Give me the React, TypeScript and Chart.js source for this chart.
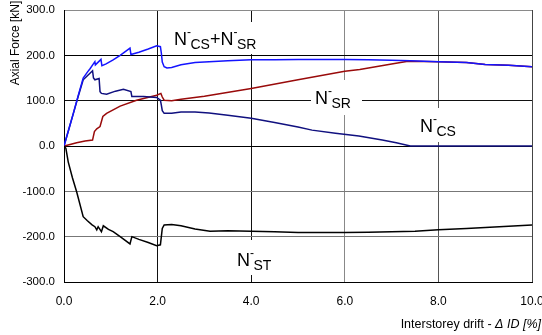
import React, { useEffect, useRef } from 'react';
import { Chart, registerables } from 'chart.js';

Chart.register(...registerables);

const FONT = '"Liberation Sans", Arial, Helvetica, sans-serif';

// ---- data ----
const xTickValues = [0, 2, 4, 6, 8, 10];
const yTickValues = [-300, -200, -100, 0, 100, 200, 300];

// N-CS + N-SR (bright blue)
const sumX = [0, 0.1, 0.2, 0.3, 0.41, 0.5, 0.56, 0.62, 0.66, 0.67, 0.72, 0.79, 0.81, 0.9, 1.05, 1.2, 1.41, 1.43, 1.6, 1.8, 1.98, 2.06, 2.08, 2.1, 2.14, 2.2, 2.3, 2.5, 2.8, 3.1, 3.5, 4.0, 4.5, 5.0, 5.5, 6.0, 6.5, 7.0, 7.4, 8.0, 8.6, 9.0, 9.5, 10.0];
const sumY = [0, 36, 72, 110, 150, 163, 171, 180, 186, 179, 184, 191, 177, 181, 190, 200, 216, 202, 207, 214, 221, 219, 205, 185, 175, 172, 173, 179, 184, 186, 188, 190, 190, 191, 191, 191, 190, 189, 188, 186, 184, 180, 178, 175];

// N-CS (navy)
const csX = [0, 0.1, 0.2, 0.3, 0.41, 0.5, 0.61, 0.63, 0.66, 0.75, 0.77, 0.8, 0.91, 1.1, 1.27, 1.43, 1.45, 1.7, 1.98, 2.06, 2.08, 2.1, 2.14, 2.3, 2.5, 2.8, 3.1, 3.5, 4.0, 4.5, 5.0, 5.3, 5.8, 6.3, 6.8, 7.1, 7.4, 10.0];
const csY = [0, 36, 72, 108, 146, 155, 166, 150, 146, 149, 120, 116, 114, 121, 125, 120, 109, 109, 107, 101, 90, 78, 72, 72, 75, 75, 73, 68, 61, 52, 42, 35, 28, 22, 13, 7, 0, 0];

// N-SR (dark red)
const srX = [0, 0.15, 0.27, 0.45, 0.61, 0.65, 0.7, 0.77, 0.83, 0.91, 1.2, 1.55, 1.98, 2.07, 2.1, 2.14, 2.3, 2.5, 3.0, 4.0, 5.0, 6.0, 6.32, 7.0, 7.35, 8.0, 8.6, 9.0, 9.5, 10.0];
const srY = [0, 4, 7, 11, 13, 32, 38, 43, 65, 72, 88, 101, 112, 116, 108, 101, 100, 103, 110, 127, 146, 165, 169, 181, 187, 186, 184, 180, 178, 175];

// N-ST (black)
const stX = [0, 0.04, 0.09, 0.18, 0.27, 0.41, 0.5, 0.6, 0.66, 0.7, 0.73, 0.8, 0.84, 0.95, 1.05, 1.2, 1.41, 1.45, 1.6, 1.8, 1.98, 2.06, 2.08, 2.1, 2.14, 2.3, 2.5, 2.8, 3.12, 3.5, 4.0, 4.5, 5.0, 5.5, 6.0, 6.5, 7.0, 7.5, 8.0, 8.6, 9.0, 9.5, 10.0];
const stY = [0, -5, -35, -70, -101, -156, -165, -174, -178, -185, -178, -189, -176, -184, -189, -200, -216, -200, -206, -213, -220, -218, -200, -182, -174, -173, -176, -183, -188, -187, -188, -189, -191, -191, -191, -190, -189, -188, -185, -182, -180, -177, -174];

// label texts: [main, sub] pairs
const labelSum = [['N', 'CS'], ['+'], ['N', 'SR']];
const labelSR = [['N', 'SR']];
const labelCS = [['N', 'CS']];
const labelST = [['N', 'ST']];
const yTitle = 'Axial Force [kN]';
const xTitlePlain = 'Interstorey drift - ';
const xTitleItalic = '\u0394 ID [%]';

// ---- layout / style ----
const LABEL_LAYOUT = [
  { parts: labelSum, x: 174, y: 45, box: [168, 22, 94, 32] },
  { parts: labelSR, x: 315, y: 104, box: [311, 80, 51, 35] },
  { parts: labelCS, x: 420, y: 132, box: [414, 108, 56, 34] },
  { parts: labelST, x: 237, y: 266, box: [231, 240, 48, 35] },
];

function drawLabel(ctx: CanvasRenderingContext2D, parts: string[][], x: number, y: number) {
  let cx = x;
  for (const p of parts) {
    if (p.length === 1) {
      ctx.font = `18px ${FONT}`;
      ctx.fillText(p[0], cx, y);
      cx += ctx.measureText(p[0]).width;
    } else {
      ctx.font = `18px ${FONT}`;
      ctx.fillText(p[0], cx, y);
      cx += ctx.measureText(p[0]).width;
      ctx.font = `12px ${FONT}`;
      ctx.fillText('-', cx, y - 9.5);
      cx += ctx.measureText('-').width - 0.5;
      ctx.font = `14px ${FONT}`;
      ctx.fillText(p[1], cx, y + 3.5);
      cx += ctx.measureText(p[1]).width;
    }
  }
}

const annotPlugin = {
  id: 'annot',
  beforeDatasetsDraw(chart: any) {
    const ctx: CanvasRenderingContext2D = chart.ctx;
    ctx.save();
    ctx.fillStyle = '#ffffff';
    for (const l of LABEL_LAYOUT) {
      ctx.fillRect(l.box[0], l.box[1], l.box[2], l.box[3]);
    }
    ctx.fillStyle = '#000000';
    ctx.textAlign = 'left';
    ctx.textBaseline = 'alphabetic';
    for (const l of LABEL_LAYOUT) drawLabel(ctx, l.parts, l.x, l.y);
    ctx.restore();
  },
  afterDraw(chart: any) {
    const ctx: CanvasRenderingContext2D = chart.ctx;
    ctx.save();
    ctx.fillStyle = '#000000';
    ctx.textBaseline = 'alphabetic';
    // y title
    ctx.translate(18.5, 43);
    ctx.rotate(-Math.PI / 2);
    ctx.textAlign = 'center';
    ctx.font = `12px ${FONT}`;
    ctx.fillText(yTitle, 0, 0);
    ctx.setTransform(1, 0, 0, 1, 0, 0);
    // x title, right aligned
    ctx.textAlign = 'left';
    ctx.font = `italic 12.5px ${FONT}`;
    const wi = ctx.measureText(xTitleItalic).width;
    ctx.font = `12.5px ${FONT}`;
    const wp = ctx.measureText(xTitlePlain).width;
    const right = 541;
    const start = right - wi - wp;
    ctx.fillText(xTitlePlain, start, 327.5);
    ctx.font = `italic 12.5px ${FONT}`;
    ctx.fillText(xTitleItalic, start + wp, 327.5);
    ctx.restore();
  },
};

const pts = (xs: number[], ys: number[]) => xs.map((x, i) => ({ x, y: ys[i] }));

const yGridColor: Record<string, string> = { '300': '#8a8a8a', '200': '#000', '100': '#111', '0': '#000', '-100': '#777', '-200': '#777', '-300': '#000' };
const xGridColor: Record<string, string> = { '0': '#000', '2': '#111', '4': '#111', '6': '#888', '8': '#555', '10': '#444' };

export default function App() {
  const ref = useRef<HTMLCanvasElement>(null);
  useEffect(() => {
    if (!ref.current) return;
    const chart = new Chart(ref.current, {
      type: 'line',
      data: {
        datasets: [
          { label: 'N-ST', data: pts(stX, stY), borderColor: '#000000', borderWidth: 1.5 },
          { label: 'N-CS+N-SR', data: pts(sumX, sumY), borderColor: '#1414ff', borderWidth: 1.5 },
          { label: 'N-CS', data: pts(csX, csY), borderColor: '#10107f', borderWidth: 1.5 },
          { label: 'N-SR', data: pts(srX, srY), borderColor: '#990a0a', borderWidth: 1.5 },
        ],
      },
      options: {
        animation: false,
        responsive: false,
        events: [],
        elements: { point: { radius: 0 }, line: { tension: 0 } },
        layout: { padding: { left: 0, right: 10, top: 10, bottom: 0 } },
        plugins: { legend: { display: false }, tooltip: { enabled: false }, title: { display: false } },
        scales: {
          x: {
            type: 'linear',
            min: 0,
            max: 10,
            afterBuildTicks: (s: any) => { s.ticks = xTickValues.map((v) => ({ value: v })); },
            ticks: { padding: 12, color: '#000', font: { family: FONT, size: 12 }, callback: (v: any) => Number(v).toFixed(1), maxRotation: 0, autoSkip: false },
            grid: { drawTicks: false, color: (c: any) => xGridColor[String(c.tick?.value)] || '#000', lineWidth: 1 },
            border: { color: '#000', width: 1 },
            afterFit: (s: any) => { s.height = 53; s.paddingLeft = 0; s.paddingRight = 0; },
          },
          y: {
            type: 'linear',
            min: -300,
            max: 300,
            afterBuildTicks: (s: any) => { s.ticks = yTickValues.map((v) => ({ value: v })); },
            ticks: { padding: 9, color: '#000', font: { family: FONT, size: 11.5 }, callback: (v: any) => Number(v).toFixed(1), autoSkip: false },
            grid: { drawTicks: false, color: (c: any) => yGridColor[String(c.tick?.value)] || '#000', lineWidth: 1 },
            border: { color: '#000', width: 1 },
            afterFit: (s: any) => { s.width = 64; s.paddingTop = 0; s.paddingBottom = 0; },
          },
        },
      },
      plugins: [annotPlugin],
    } as any);
    return () => chart.destroy();
  }, []);
  return (
    <div style={{ position: 'absolute', left: 0, top: 0, width: 542, height: 335, background: '#fff' }}>
      <canvas ref={ref} width={542} height={335} style={{ display: 'block' }} />
    </div>
  );
}
